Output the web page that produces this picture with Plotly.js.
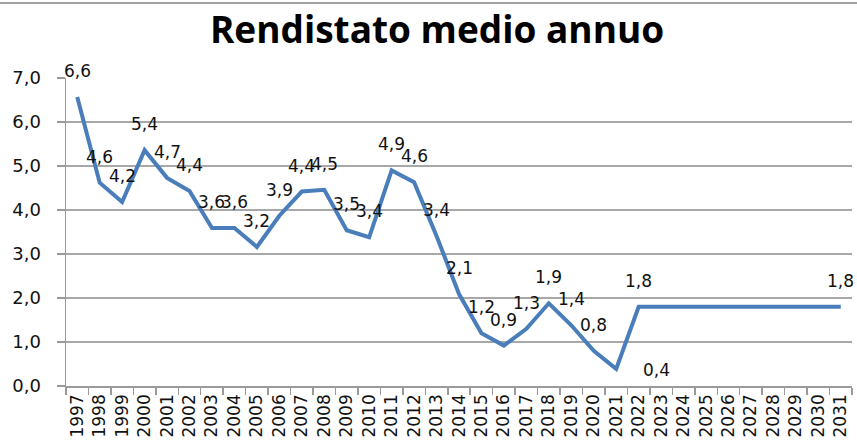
<!DOCTYPE html>
<html>
<head>
<meta charset="utf-8">
<script src="https://cdn.plot.ly/plotly-3.0.1.min.js"></script>
<style>html,body{margin:0;padding:0;background:#fff;}#chart{width:857px;height:445px;}</style>
</head>
<body>
<div id="chart"></div>
<script>
const years = ["1997","1998","1999","2000","2001","2002","2003","2004","2005","2006","2007","2008","2009","2010","2011","2012","2013","2014","2015","2016","2017","2018","2019","2020","2021","2022","2023","2024","2025","2026","2027","2028","2029","2030","2031"];
const values = [6.57,4.62,4.18,5.36,4.73,4.43,3.59,3.59,3.16,3.87,4.42,4.46,3.54,3.38,4.90,4.63,3.41,2.09,1.20,0.92,1.30,1.88,1.38,0.80,0.39,1.80,1.80,1.80,1.80,1.80,1.80,1.80,1.80,1.80,1.80];
const labelShown = [1,1,1,1,1,1,1,1,1,1,1,1,1,1,1,1,1,1,1,1,1,1,1,1,1,1,0,0,0,0,0,0,0,0,1];
const labelRight = ["2021"];
const yTicks = [0,1,2,3,4,5,6,7];

const fmt = v => (Math.round(v * 10) / 10).toFixed(1).replace('.', ',');

const annotations = [];
years.forEach((yr, i) => {
  if (!labelShown[i]) return;
  const right = labelRight.includes(yr);
  annotations.push({
    x: i, y: values[i], xref: 'x', yref: 'y',
    text: fmt(values[i]), showarrow: false,
    xanchor: 'center', yanchor: 'middle',
    xshift: right ? 40 : 0, yshift: right ? -1 : 26,
    font: {family: 'DejaVu Sans, sans-serif', size: 17, color: '#111'}
  });
});

const trace = {
  type: 'scatter', mode: 'lines',
  x: years, y: values,
  line: {color: '#4a7ebb', width: 4},
  hoverinfo: 'skip'
};

const layout = {
  width: 857, height: 445,
  margin: {l: 66, r: 5, t: 78, b: 59},
  paper_bgcolor: '#fff', plot_bgcolor: '#fff',
  separators: ',.',
  showlegend: false,
  title: {
    text: '<b>Rendistato medio annuo</b>',
    font: {family: 'Open Sans, sans-serif', size: 37, color: '#000'},
    xref: 'container', x: 0.51, xanchor: 'center',
    yref: 'container', y: 0.932, yanchor: 'middle'
  },
  xaxis: {
    type: 'category', categoryorder: 'array', categoryarray: years,
    range: [-0.5, years.length - 0.5],
    showgrid: false, showline: true, linecolor: '#9a9a9a', linewidth: 1.5,
    ticks: 'outside', tickson: 'boundaries', ticklen: 7, tickcolor: '#9a9a9a', tickwidth: 1.5,
    tickangle: -90, dtick: 1,
    tickfont: {family: 'DejaVu Sans, sans-serif', size: 17, color: '#111'},
    fixedrange: true
  },
  yaxis: {
    range: [0, 7], tickvals: yTicks, tickformat: '.1f',
    showgrid: true, gridcolor: '#a8a8a8', gridwidth: 1.5,
    showline: true, linecolor: '#9a9a9a', linewidth: 1.5,
    ticks: 'outside', ticklen: 8, tickcolor: '#9a9a9a', tickwidth: 1.5,
    ticklabelstandoff: 12,
    zeroline: false,
    tickfont: {family: 'DejaVu Sans, sans-serif', size: 18, color: '#111'},
    fixedrange: true
  },
  annotations: annotations,
  shapes: [{
    type: 'line', xref: 'paper', yref: 'paper',
    x0: -66/786, x1: (857-66)/786, y0: (386-3)/308, y1: (386-3)/308,
    line: {color: '#a0a0a0', width: 2}
  }]
};

Plotly.newPlot('chart', [trace], layout, {staticPlot: true, displayModeBar: false});
</script>
</body>
</html>
